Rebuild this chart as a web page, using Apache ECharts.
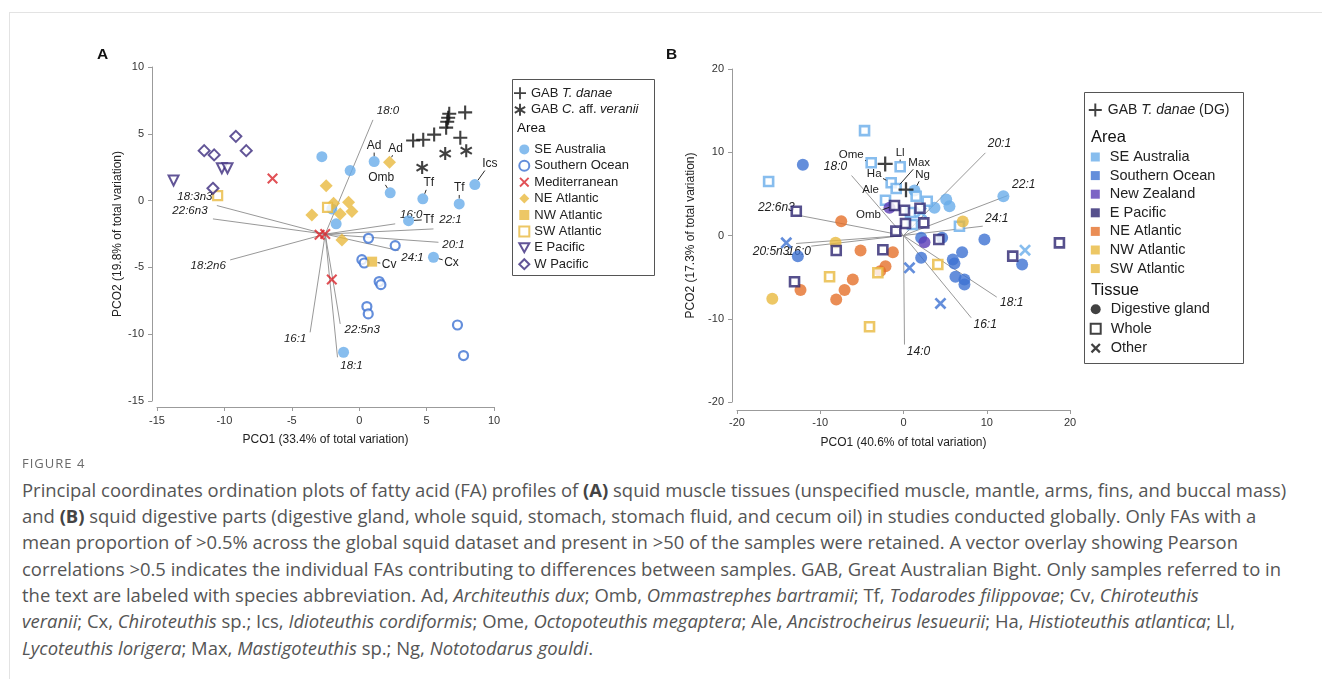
<!DOCTYPE html>
<html><head><meta charset="utf-8">
<script src="https://cdn.jsdelivr.net/npm/echarts@6/dist/echarts.min.js"></script>
<style>
html,body{margin:0;padding:0;background:#fff;}
#wrap{position:relative;width:1322px;height:679px;overflow:hidden;background:#fff;}
#frame{position:absolute;left:9px;top:12px;width:1330px;height:700px;border-left:1px solid #e3e3e3;border-top:1px solid #e3e3e3;}
#chart{position:absolute;left:0;top:0;width:1322px;height:455px;}
#cap{position:absolute;left:22px;top:0;font-family:'Open Sans','Noto Sans',sans-serif;color:#555;}
#cap .fig{position:absolute;left:0;top:454px;font-size:13px;letter-spacing:1px;color:#6a6a6a;white-space:nowrap;line-height:18px;}
#cap .txt{position:absolute;left:0;top:476.8px;font-size:16.4px;line-height:26.3px;white-space:nowrap;}
#cap b{font-weight:700;color:#444;}
</style></head>
<body><div id="wrap"><div id="frame"></div><div id="chart"></div>
<div id="cap">
<div class="fig">FIGURE 4</div>
<div class="txt" id="captxt">
<div id="l1">Principal coordinates ordination plots of fatty acid (FA) profiles of <b>(A)</b> squid muscle tissues (unspecified muscle, mantle, arms, fins, and buccal mass)</div>
<div>and <b>(B)</b> squid digestive parts (digestive gland, whole squid, stomach, stomach fluid, and cecum oil) in studies conducted globally. Only FAs with a</div>
<div>mean proportion of &gt;0.5% across the global squid dataset and present in &gt;50 of the samples were retained. A vector overlay showing Pearson</div>
<div>correlations &gt;0.5 indicates the individual FAs contributing to differences between samples. GAB, Great Australian Bight. Only samples referred to in</div>
<div>the text are labeled with species abbreviation. Ad, <i>Architeuthis dux</i>; Omb, <i>Ommastrephes bartramii</i>; Tf, <i>Todarodes filippovae</i>; Cv, <i>Chiroteuthis</i></div>
<div><i>veranii</i>; Cx, <i>Chiroteuthis</i> sp.; Ics, <i>Idioteuthis cordiformis</i>; Ome, <i>Octopoteuthis megaptera</i>; Ale, <i>Ancistrocheirus lesueurii</i>; Ha, <i>Histioteuthis atlantica</i>; Ll,</div>
<div><i>Lycoteuthis lorigera</i>; Max, <i>Mastigoteuthis</i> sp.; Ng, <i>Nototodarus gouldi</i>.</div>
</div></div></div>
<script>
// ================= DATA : panel A (muscle) =================
const ticksAx = [-15, -10, -5, 0, 5, 10];
const ticksAy = [-15, -10, -5, 0, 5, 10];
const titleAx = 'PCO1 (33.4% of total variation)';
const titleAy = 'PCO2 (19.8% of total variation)';
const gabTdanaeA = [[4.0,4.5],[4.75,4.55],[5.56,4.94],[6.45,5.46],[6.53,5.9],[6.6,6.2],[6.68,6.5],[7.86,6.6],[7.5,4.7]];
const gabCveraniiA = [[6.38,3.52],[7.94,3.74],[4.67,2.47]];
const seAustraliaA = [[-2.77,3.29],[-0.67,2.25],[1.11,2.92],[2.3,0.58],[4.72,0.13],[7.42,-0.25],[8.58,1.2],[3.66,-1.5],[-2.03,-0.62],[-1.71,-1.74],[-1.16,-11.35],[5.51,-4.24]];
const southernOceanA = [[0.69,-2.82],[2.67,-3.37],[0.2,-4.42],[0.37,-4.67],[1.48,-6.06],[1.61,-6.29],[0.57,-7.93],[0.67,-8.48],[7.29,-9.31],[7.74,-11.6]];
const mediterraneanA = [[-6.43,1.65],[-2.94,-2.55],[-2.52,-2.5],[-2.03,-5.91]];
const neAtlanticA = [[-2.45,1.12],[-3.51,-1.07],[-1.9,-0.2],[-0.79,-0.12],[-0.54,-0.82],[-1.41,-1.0],[-1.28,-2.94],[2.25,2.87]];
const nwAtlanticA = [[0.96,-4.57]];
const swAtlanticA = [[-10.5,0.37],[-2.35,-0.5]];
const ePacificA = [[-13.77,1.5],[-10.19,2.42],[-9.77,2.42]];
const wPacificA = [[-9.15,4.81],[-11.5,3.74],[-10.76,3.42],[-8.38,3.74],[-10.85,0.92]];
const vecOriginA = [-2.52, -2.51];
const vecNamesA = ['18:0','18:3n3','22:6n3','18:2n6','16:1','22:5n3','18:1','16:0','22:1','20:1','24:1'];
const vecEndsA = [[1.02,6.04],[-10.56,-0.37],[-10.85,-1.37],[-9.57,-4.44],[-3.64,-9.86],[-1.41,-9.23],[-1.61,-11.73],[2.67,-1.74],[5.51,-2.12],[5.88,-3.12],[2.92,-3.74]];
const annPtsA = [[1.11,2.92],[2.25,2.87],[2.3,0.58],[4.72,0.13],[7.42,-0.25],[8.58,1.2],[3.66,-1.5],[0.96,-4.57],[5.51,-4.24]];
const annTextA = ['Ad','Ad','Omb','Tf','Tf','Ics','Tf','Cv','Cx'];

// ================= DATA : panel B (digestive parts) =================
const ticksBx = [-20, -10, 0, 10, 20];
const ticksBy = [-20, -10, 0, 10, 20];
const titleBx = 'PCO1 (40.6% of total variation)';
const titleBy = 'PCO2 (17.3% of total variation)';
const gabTdanaeB = [[-2.2,8.6],[0.3,5.5]];
const seAustraliaDG = [[12.0,4.72],[5.13,4.32],[5.52,3.52],[3.72,3.33],[1.32,5.4]];
const seAustraliaWhole = [[-4.68,12.6],[-16.2,6.48],[-3.88,8.73],[-0.4,8.25],[-1.48,6.33],[-0.88,5.64],[-2.16,4.24],[1.52,4.72],[2.85,4.12],[1.08,1.32],[6.72,1.12],[0.84,2.76]];
const seAustraliaOther = [[14.6,-1.76],[2.12,2.76]];
const southernOceanDG = [[-12.09,8.49],[-12.69,-2.48],[2.12,-0.28],[4.64,-0.28],[9.72,-0.48],[14.25,-3.48],[7.04,-2.0],[5.92,-2.88],[6.12,-3.36],[6.24,-4.96],[7.32,-5.28],[7.32,-5.88],[2.12,-2.68]];
const southernOceanOther = [[-14.08,-0.88],[0.72,-3.88],[4.44,-8.16]];
const newZealandDG = [[-1.68,3.33],[2.52,-0.8]];
const ePacificWhole = [[-12.88,2.92],[-1.08,3.6],[0.12,3.04],[1.98,3.28],[0.24,1.44],[2.44,1.52],[-0.92,0.52],[4.24,-0.48],[18.73,-0.88],[13.12,-2.48],[-2.48,-1.72],[-8.08,-1.8],[-13.09,-5.56]];
const neAtlanticDG = [[-7.48,1.72],[-5.16,-1.8],[-1.28,-2.0],[-2.16,-3.68],[-2.8,-4.28],[-6.09,-5.28],[-7.08,-6.56],[-8.08,-7.68],[-12.37,-6.56]];
const nwAtlanticDG = [[7.12,1.68],[-8.16,-0.88],[-15.76,-7.6]];
const swAtlanticWhole = [[4.12,-3.48],[-3.08,-4.48],[-8.88,-4.96],[-4.08,-10.96]];
const vecOriginB = [0, 0];
const vecNamesB = ['18:0','22:6n3','20:5n3','16:0','14:0','16:1','18:1','24:1','22:1','20:1'];
const vecEndsB = [[-6.24,7.2],[-13.1,2.52],[-12.9,-0.96],[-11.08,-1.28],[0.12,-13.1],[8.13,-9.88],[11.2,-7.4],[9.52,1.12],[12.52,4.8],[9.84,9.93]];
const annPtsB = [[-3.88,8.73],[-0.4,8.25],[-0.88,5.64],[1.32,5.4],[-1.48,6.33],[-2.16,4.24],[-1.08,3.6]];
const annTextB = ['Ome','Ll','Max','Ng','Ha','Ale','Omb'];
const areasB = ['SE Australia','Southern Ocean','New Zealand','E Pacific','NE Atlantic','NW Atlantic','SW Atlantic'];
const tissuesB = ['Digestive gland','Whole','Other'];

// ================= STYLE =================
const F = "'Liberation Sans', Arial, Helvetica, sans-serif";
const C = {
  seAus:'#69adea', soOc:'#3d72d2', med:'#d9262c', yel:'#e9b93e', pacA:'#3b2b7d',
  nz:'#5b3cb6', ePacB:'#2c2470', orange:'#e5702b', black:'#111'
};
function barsPath(angles, L, w) {
  let d = '';
  angles.forEach(a => {
    const r = a * Math.PI / 180, c = Math.cos(r), s = Math.sin(r);
    const pts = [[-L,-w],[L,-w],[L,w],[-L,w]].map(([x,y]) => [x*c - y*s, x*s + y*c]);
    d += 'M' + pts.map(p => p[0].toFixed(3) + ',' + p[1].toFixed(3)).join('L') + 'Z';
  });
  return 'path://' + d;
}
const PLUS = barsPath([0, 90], 10, 1.5);
const ASTER = barsPath([90, 30, 150], 10, 1.6);
const XTHIN = barsPath([45, 135], 10, 1.55);
const XTHICK = barsPath([45, 135], 10, 1.9);

// label offsets (px) relative to vector ends / annotated points
const vecOffA = [[15,-9],[-22,-9],[-23,-8],[-22,6],[-15,6],[22,6],[14,8],[16,-9],[17,-9],[15,3],[14,7]];
const annOffA = [[0,-16],[6,-14],[-9,-15],[6,-16],[0,-16],[15,-21],[20,-1],[17,3],[18,5]];
const vecOffB = [[-16,-9],[-18,-7],[-25,8],[-12,6],[14,7],[14,7],[15,6],[14,-8],[16,-11],[14,-9]];
const annOffB = [[-20,-8],[0,-14],[23,-26],[8,-16],[-17,-9],[-15,-10],[-26,9]];

const mctx = document.createElement('canvas').getContext('2d');
function textW(t, font) { mctx.font = font; return mctx.measureText(t).width; }

function vectorSeries(gi, origin, names, ends, offs, fs) {
  return {
    type:'custom', xAxisIndex:gi, yAxisIndex:gi, z:1, silent:true, clip:false,
    data: ends,
    renderItem(params, api) {
      const i = params.dataIndex;
      const o = api.coord(origin);
      const p = api.coord([api.value(0), api.value(1)]);
      const off = offs[i];
      return {type:'group', children:[
        {type:'line', shape:{x1:o[0], y1:o[1], x2:p[0], y2:p[1]}, style:{stroke:'#8c8c8c', lineWidth:0.9}},
        {type:'text', x:p[0] + off[0], y:p[1] + off[1], style:{text:names[i], fontSize:fs, fontStyle:'italic', fontFamily:F, fill:'#222', align:'center', verticalAlign:'middle'}}
      ]};
    }
  };
}
function annotSeries(gi, pts, texts, offs, fs) {
  return {
    type:'custom', xAxisIndex:gi, yAxisIndex:gi, z:5, silent:true, clip:false,
    data: pts,
    renderItem(params, api) {
      const i = params.dataIndex;
      const p = api.coord([api.value(0), api.value(1)]);
      const off = offs[i];
      const cx = p[0] + off[0], cy = p[1] + off[1];
      const len = Math.hypot(off[0], off[1]);
      const ux = off[0] / len, uy = off[1] / len;
      const hw = textW(texts[i], fs + 'px ' + F) / 2 + 1.5, hh = fs * 0.5 + 1;
      const t = Math.min(Math.abs(ux) > 1e-6 ? hw / Math.abs(ux) : 1e9, Math.abs(uy) > 1e-6 ? hh / Math.abs(uy) : 1e9);
      const s0 = 5.5, s1 = len - t;
      const kids = [{type:'text', x:cx, y:cy, style:{text:texts[i], fontSize:fs, fontFamily:F, fill:'#222', align:'center', verticalAlign:'middle'}}];
      if (s1 > s0 + 1) kids.push({type:'line', shape:{x1:p[0] + ux*s0, y1:p[1] + uy*s0, x2:p[0] + ux*s1, y2:p[1] + uy*s1}, style:{stroke:'#111', lineWidth:0.9}});
      return {type:'group', children:kids};
    }
  };
}
function sc(name, gi, data, symbol, size, itemStyle, extra) {
  return Object.assign({
    type:'scatter', name, xAxisIndex:gi, yAxisIndex:gi, data, symbol, symbolSize:size,
    itemStyle, z:3, silent:true, symbolKeepAspect:true
  }, extra || {});
}
const open = (c, w) => ({color:'#ffffff', borderColor:c, borderWidth:w || 2});
const fill = c => ({color:c, borderWidth:0});

function axis(kind, gi, ticks, title, o) {
  const step = ticks[1] - ticks[0];
  return Object.assign({
    type:'value', gridIndex:gi, min:ticks[0], max:ticks[ticks.length-1], interval:step,
    name:title, nameLocation:'middle',
    axisLine:{show:true, onZero:false, lineStyle:{color:'#9b9b9b', width:1}},
    axisTick:{show:true, length:4, lineStyle:{color:'#9b9b9b', width:1}},
    axisLabel:{color:'#333', fontSize:11, fontFamily:F, margin:8},
    splitLine:{show:false},
    nameTextStyle:{color:'#222', fontSize:12, fontFamily:F}
  }, o);
}

// ---------- series ----------
const series = [
  vectorSeries(0, vecOriginA, vecNamesA, vecEndsA, vecOffA, 11.5),
  sc('SE Australia', 0, seAustraliaA, 'circle', 11, fill(C.seAus)),
  sc('Southern Ocean', 0, southernOceanA, 'circle', 9, open(C.soOc, 2.2)),
  sc('Mediterranean', 0, mediterraneanA, XTHIN, 11, fill(C.med)),
  sc('NE Atlantic', 0, neAtlanticA, 'diamond', 13, fill(C.yel)),
  sc('NW Atlantic', 0, nwAtlanticA, 'rect', 10, fill(C.yel)),
  sc('SW Atlantic', 0, swAtlanticA, 'rect', 9, open(C.yel, 2.2)),
  sc('E Pacific', 0, ePacificA, 'triangle', 10, open(C.pacA, 2), {symbolRotate:180}),
  sc('W Pacific', 0, wPacificA, 'diamond', 11, open(C.pacA, 2)),
  sc('GAB T. danae', 0, gabTdanaeA, PLUS, 14, fill(C.black), {z:4}),
  sc('GAB C. aff. veranii', 0, gabCveraniiA, ASTER, 13, fill(C.black), {z:4}),
  annotSeries(0, annPtsA, annTextA, annOffA, 12),

  vectorSeries(1, vecOriginB, vecNamesB, vecEndsB, vecOffB, 12),
  sc('B|SE Australia|DG', 1, seAustraliaDG, 'circle', 12, fill(C.seAus)),
  sc('B|SE Australia|W', 1, seAustraliaWhole, 'rect', 9, open(C.seAus, 2.6)),
  sc('B|SE Australia|O', 1, seAustraliaOther, XTHICK, 12, fill(C.seAus)),
  sc('B|Southern Ocean|DG', 1, southernOceanDG, 'circle', 12, fill(C.soOc)),
  sc('B|Southern Ocean|O', 1, southernOceanOther, XTHICK, 12, fill(C.soOc)),
  sc('B|New Zealand|DG', 1, newZealandDG, 'circle', 12, fill(C.nz)),
  sc('B|NE Atlantic|DG', 1, neAtlanticDG, 'circle', 12, fill(C.orange)),
  sc('B|NW Atlantic|DG', 1, nwAtlanticDG, 'circle', 12, fill(C.yel)),
  sc('B|SW Atlantic|W', 1, swAtlanticWhole, 'rect', 9, open(C.yel, 2.6)),
  sc('B|E Pacific|W', 1, ePacificWhole, 'rect', 9, open(C.ePacB, 2.6), {z:3.5}),
  sc('GAB T. danae (DG)', 1, gabTdanaeB, PLUS, 15, fill(C.black), {z:4}),
  annotSeries(1, annPtsB, annTextB, annOffB, 11.5)
];
// legend-only entries for panel B
const areaColB = {'SE Australia':C.seAus,'Southern Ocean':C.soOc,'New Zealand':C.nz,'E Pacific':C.ePacB,'NE Atlantic':C.orange,'NW Atlantic':C.yel,'SW Atlantic':C.yel};
areasB.forEach(a => series.push(sc('B|' + a, 1, [], 'rect', 9, fill(areaColB[a]))));
series.push(sc(tissuesB[0], 1, [], 'circle', 10, fill(C.black)));
series.push(sc(tissuesB[1], 1, [], 'rect', 10, open(C.black, 2.6)));
series.push(sc(tissuesB[2], 1, [], XTHICK, 10, fill(C.black)));

const richI = fs => ({i:{fontStyle:'italic', fontSize:fs, fontFamily:F, color:'#222'}});
const legends = [
  {orient:'vertical', left:514, top:86.2, padding:0, itemWidth:12, itemHeight:12, itemGap:2.6, selectedMode:false,
   data:[{name:'GAB T. danae', icon:PLUS}, {name:'GAB C. aff. veranii', icon:ASTER}],
   formatter:n => n === 'GAB T. danae' ? 'GAB {i|T. danae}' : 'GAB {i|C.} aff. {i|veranii}',
   textStyle:{fontSize:13, fontFamily:F, color:'#222', lineHeight:14, rich:richI(13)}},
  {orient:'vertical', left:518.3, top:142.4, padding:0, itemWidth:10, itemHeight:10, itemGap:2.4, selectedMode:false,
   data:[
     {name:'SE Australia', icon:'circle'}, {name:'Southern Ocean', icon:'circle'}, {name:'Mediterranean', icon:XTHIN},
     {name:'NE Atlantic', icon:'diamond'}, {name:'NW Atlantic', icon:'rect'}, {name:'SW Atlantic', icon:'rect'},
     {name:'E Pacific', icon:'path://M-5,-4L5,-4L0,5Z'}, {name:'W Pacific', icon:'diamond'}],
   textStyle:{fontSize:13, fontFamily:F, color:'#222', lineHeight:14}},
  {orient:'vertical', left:1088.8, top:102.5, padding:0, itemWidth:13, itemHeight:13, itemGap:2, selectedMode:false,
   data:[{name:'GAB T. danae (DG)', icon:PLUS}],
   formatter:() => 'GAB {i|T. danae} (DG)',
   textStyle:{fontSize:14, fontFamily:F, color:'#222', lineHeight:15, padding:[0,0,0,1], rich:richI(14)}},
  {orient:'vertical', left:1090.8, top:148, padding:0, itemWidth:9, itemHeight:9, itemGap:0.6, selectedMode:false,
   data: areasB.map(a => ({name:'B|' + a, icon:'rect'})),
   formatter:n => n.replace('B|', ''),
   textStyle:{fontSize:14.5, fontFamily:F, color:'#222', lineHeight:18, padding:[0,0,0,5]}},
  {orient:'vertical', left:1089.7, top:299.7, padding:0, itemWidth:10, itemHeight:10, itemGap:0.5, selectedMode:false,
   data: tissuesB.map((t, k) => ({name:t, icon:['circle','rect',XTHICK][k]})),
   textStyle:{fontSize:14.5, fontFamily:F, color:'#222', lineHeight:19, padding:[0,0,0,5]}}
];

const option = {
  animation:false,
  backgroundColor:'transparent',
  textStyle:{fontFamily:F},
  grid:[
    {left:157, top:67, width:337, height:334, containLabel:false},
    {left:737, top:69, width:333, height:333, containLabel:false}
  ],
  xAxis:[
    axis('x', 0, ticksAx, titleAx, {offset:6, nameGap:27}),
    axis('x', 1, ticksBx, titleBx, {offset:8, nameGap:27, axisLabel:{color:'#333', fontSize:11, fontFamily:F, margin:7}})
  ],
  yAxis:[
    axis('y', 0, ticksAy, titleAy, {offset:5, nameGap:28}),
    axis('y', 1, ticksBy, titleBy, {offset:5, nameGap:35})
  ],
  legend: legends,
  series,
  graphic:[
    {type:'text', left:97, top:47, style:{text:'A', fontSize:15.5, fontWeight:'bold', fontFamily:F, fill:'#111'}},
    {type:'text', left:666, top:47, style:{text:'B', fontSize:15.5, fontWeight:'bold', fontFamily:F, fill:'#111'}},
    {type:'rect', left:510, top:77, shape:{width:142, height:196}, style:{fill:'none', stroke:'#555', lineWidth:1}, z:-1},
    {type:'text', left:517, top:121, style:{text:'Area', fontSize:13.5, fontFamily:F, fill:'#111'}},
    {type:'rect', left:1082, top:90, shape:{width:159, height:271}, style:{fill:'none', stroke:'#555', lineWidth:1}, z:-1},
    {type:'text', left:1091, top:129, style:{text:'Area', fontSize:16.5, fontFamily:F, fill:'#111'}},
    {type:'text', left:1091, top:282, style:{text:'Tissue', fontSize:16.5, fontFamily:F, fill:'#111'}}
  ]
};
const chart = echarts.init(document.getElementById('chart'), null, {renderer:'canvas'});
chart.setOption(option);

// fit caption width to the reference line length
(function(){
  const l1 = document.getElementById('l1');
  const w = l1.getBoundingClientRect().width;
  const box = document.getElementById('captxt');
  const cur = parseFloat(getComputedStyle(box).fontSize);
  box.style.fontSize = (cur * 1265 / w).toFixed(2) + 'px';
})();
</script></body></html>
